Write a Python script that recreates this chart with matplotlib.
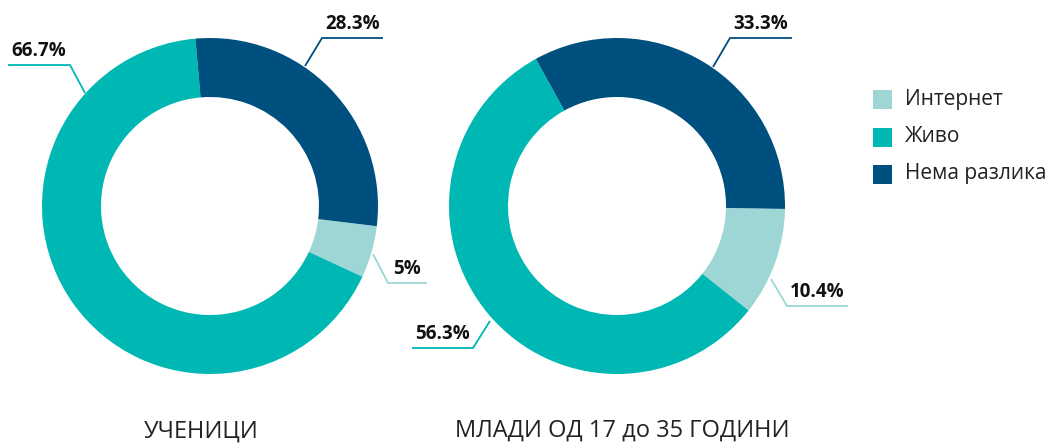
import matplotlib.pyplot as plt

plt.rcParams['font.family'] = ['Open Sans', 'DejaVu Sans']

categories = ['Интернет', 'Живо', 'Нема разлика']
colors = ['#9dd6d5', '#00b8b3', '#00507f']

students = [5, 66.7, 28.3]
youth = [10.4, 56.3, 33.3]
labels_students = ['5%', '66.7%', '28.3%']
labels_youth = ['10.4%', '56.3%', '33.3%']
titles = ['УЧЕНИЦИ', 'МЛАДИ ОД 17 до 35 ГОДИНИ']

W, H = 1053, 445
fig = plt.figure(figsize=(W / 100, H / 100), dpi=100)
ax = fig.add_axes([0, 0, 1, 1])

R = 168
RING = 59

def Y(y):
    return H - y

# pies: (values, centre x, centre y (pixel), startangle)
ax.pie(students, colors=colors, radius=R, center=(210, Y(206)), startangle=-6.9,
       counterclock=False, wedgeprops=dict(width=RING, linewidth=0), frame=True)
ax.pie(youth, colors=colors, radius=R, center=(617, Y(206)), startangle=-1,
       counterclock=False, wedgeprops=dict(width=RING, linewidth=0), frame=True)
ax.set_xlim(0, W)
ax.set_ylim(0, H)
ax.set_aspect('equal')
ax.axis('off')

# leader lines: edge point, elbow, line end ; text sits on the horizontal segment
def callout(text, color, edge, elbow, end):
    xs = [edge[0], elbow[0], end[0]]
    ys = [Y(edge[1]), Y(elbow[1]), Y(end[1])]
    ax.plot(xs, ys, color=color, lw=1.3, solid_capstyle='butt')
    cx = (elbow[0] + end[0]) / 2
    ax.text(cx, Y(elbow[1]) + 4, text, ha='center', va='bottom',
            fontsize=13.5, fontweight='bold', color='#111111')

callout(labels_students[0], colors[0], (373, 254), (388, 283), (427, 283))
callout(labels_students[1], colors[1], (85, 93), (70, 65), (8, 65))
callout(labels_students[2], colors[2], (305, 66), (322, 38), (383, 38))
callout(labels_youth[0], colors[0], (771, 279), (787, 306), (848, 306))
callout(labels_youth[1], colors[1], (490, 321), (473, 348), (412, 348))
callout(labels_youth[2], colors[2], (713, 67), (730, 38), (792, 38))

# legend
legend_y = [99, 137, 174]
for cat, col, ly in zip(categories, colors, legend_y):
    ax.add_patch(plt.Rectangle((873, Y(ly) - 9.5), 19, 19, color=col, lw=0))
    ax.text(905, Y(ly), cat, ha='left', va='center', fontsize=15, color='#222222')

ax.text(201, Y(431), titles[0], ha='center', va='center', fontsize=17, color='#222222')
ax.text(622, Y(431), titles[1], ha='center', va='center', fontsize=17, color='#222222')

fig.savefig('out.png', dpi=100)
